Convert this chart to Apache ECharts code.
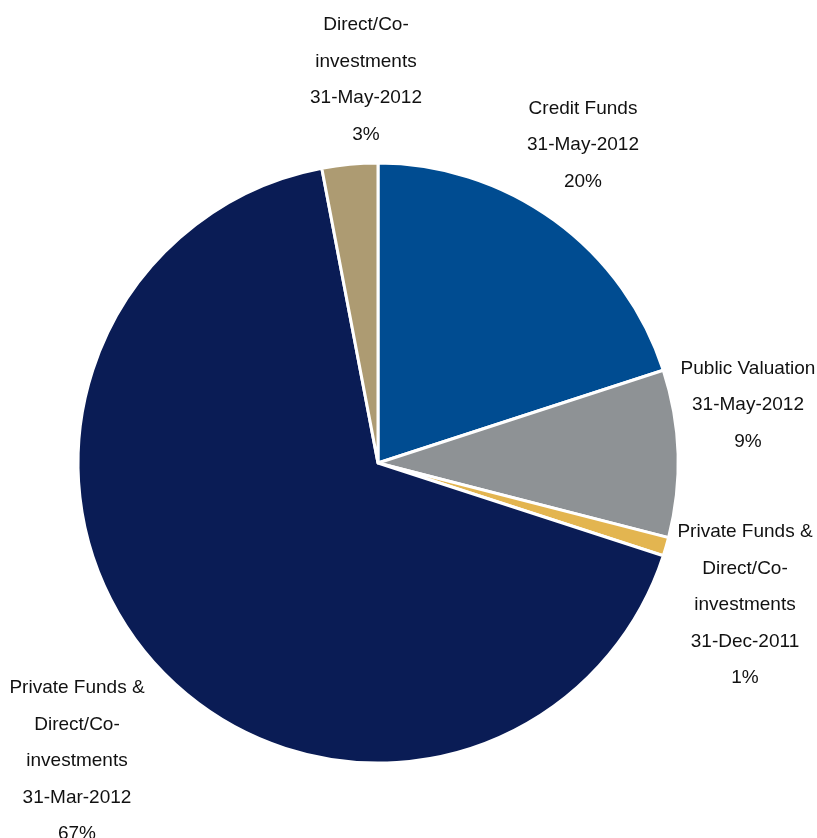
<!DOCTYPE html>
<html>
<head>
<meta charset="utf-8">
<script src="https://cdn.jsdelivr.net/npm/echarts@6/dist/echarts.min.js"></script>
<style>
  html, body { margin: 0; padding: 0; background: #ffffff; }
  #chart { width: 817px; height: 838px; }
</style>
</head>
<body>
<div id="chart"></div>
<script>
// Portfolio breakdown by valuation source and valuation date
const categories = [
  'Credit Funds',
  'Public Valuation',
  'Private Funds &\nDirect/Co-\ninvestments',
  'Private Funds &\nDirect/Co-\ninvestments',
  'Direct/Co-\ninvestments'
];
const valuationDates = ['31-May-2012', '31-May-2012', '31-Dec-2011', '31-Mar-2012', '31-May-2012'];
const shares = [20, 9, 1, 67, 3];
const sliceColors = ['#004C91', '#8E9295', '#E3B550', '#0A1C55', '#AD9B72'];

// label anchor points (centre of each text block)
const labelAnchors = [
  [583, 145],
  [748, 405],
  [745, 605],
  [77, 761],
  [366, 80]
];

const chart = echarts.init(document.getElementById('chart'), null, { renderer: 'canvas' });

const pieData = shares.map((v, i) => ({
  name: categories[i],
  value: v,
  date: valuationDates[i],
  itemStyle: { color: sliceColors[i] }
}));

chart.setOption({
  backgroundColor: '#ffffff',
  animation: false,
  series: [{
    type: 'pie',
    center: [378, 463],
    radius: [0, 300],
    startAngle: 90,
    clockwise: true,
    avoidLabelOverlap: false,
    data: pieData,
    itemStyle: { borderColor: '#ffffff', borderWidth: 3 },
    label: {
      show: true,
      position: 'outside',
      formatter: p => p.name + '\n' + p.data.date + '\n' + p.value + '%',
      fontFamily: '"Liberation Sans Narrow", "Arial Narrow", "Liberation Sans", sans-serif',
      fontSize: 19,
      lineHeight: 36.5,
      color: '#111111',
      align: 'center'
    },
    labelLine: { show: false },
    labelLayout: params => ({
      x: labelAnchors[params.dataIndex][0],
      y: labelAnchors[params.dataIndex][1],
      align: 'center',
      verticalAlign: 'middle'
    }),
    emphasis: { disabled: true }
  }]
});
</script>
</body>
</html>
